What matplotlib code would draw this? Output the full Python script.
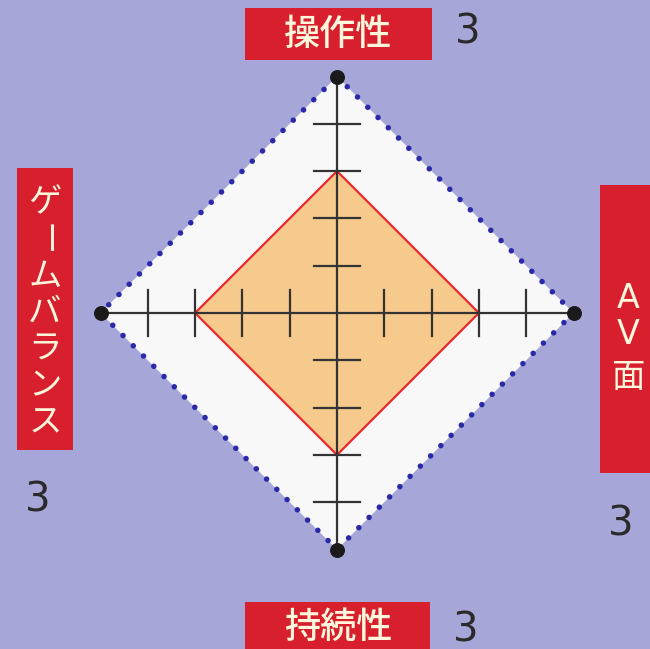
import matplotlib
matplotlib.use("Agg")
import matplotlib.pyplot as plt
from matplotlib.patches import Rectangle, Polygon
import numpy as np

plt.rcParams['font.family'] = ['Noto Sans CJK JP', 'DejaVu Sans']

# Data
categories = ["操作性", "AV面", "持続性", "ゲームバランス"]
values = [3, 3, 3, 3]
max_value = 5
tick_values = [1, 2, 3, 4]
score_labels = ["3", "3", "3", "3"]

W, H = 650, 649
fig = plt.figure(figsize=(W / 100, H / 100), dpi=100)
bg = "#a6a7d8"
fig.patch.set_facecolor(bg)
ax = fig.add_axes([0, 0, 1, 1])
ax.set_facecolor(bg)

u = 47.3
cx, cy = 337, 313
ax.set_xlim(-cx / u, (W - cx) / u)
ax.set_ylim(-(H - cy) / u, cy / u)
ax.axis("off")


def px(x, y):
    return ((x - cx) / u, (cy - y) / u)


# directions: top, right, bottom, left
dirs = np.array([[0, 1], [1, 0], [0, -1], [-1, 0]], dtype=float)

# white diamond with dotted border
outer = dirs * max_value
ax.add_patch(Polygon(outer, closed=True, facecolor="#f8f8f8", edgecolor="none", zorder=1))
ox = list(outer[:, 0]) + [outer[0, 0]]
oy = list(outer[:, 1]) + [outer[0, 1]]
ax.plot(ox, oy, color="#2a2aa8", lw=4.0, linestyle=(0, (0.01, 2.6)),
        dash_capstyle="round", zorder=2)

# data polygon
pts = dirs * np.array(values)[:, None]
ax.add_patch(Polygon(pts, closed=True, facecolor="#f6ca8c", edgecolor="#e8282c",
                     lw=1.6, zorder=3))

# axes lines
ax.plot([-max_value, max_value], [0, 0], color="#333333", lw=1.6, zorder=4)
ax.plot([0, 0], [-max_value, max_value], color="#333333", lw=1.6, zorder=4)
tl = 0.48
for t in tick_values:
    for s in (1, -1):
        ax.plot([-tl, tl], [s * t, s * t], color="#333333", lw=1.6, zorder=4)
        ax.plot([s * t, s * t], [-tl, tl], color="#333333", lw=1.6, zorder=4)
ax.scatter(outer[:, 0], outer[:, 1], s=95, color="#1a1a1a", zorder=5)

red = "#d81f2d"
tc = "#fff6dc"


def box(x0, y0, x1, y1):
    a = px(x0, y1)
    b = px(x1, y0)
    ax.add_patch(Rectangle(a, b[0] - a[0], b[1] - a[1], facecolor=red,
                           edgecolor="none", zorder=6, clip_on=False))


# top label
box(245, 8, 432, 60)
ax.text(*px(338, 35), categories[0], color=tc, fontsize=26, ha="center",
        va="center", zorder=7, fontweight="medium")
# bottom label
box(245, 602, 430, 660)
ax.text(*px(338, 628), categories[2], color=tc, fontsize=26, ha="center",
        va="center", zorder=7, fontweight="medium")
# left label (vertical)
box(17, 168, 73, 450)
left_chars = list(categories[3])
for i, ch in enumerate(left_chars):
    yy = 203 + i * 36.5
    ax.text(*px(45, yy), ch, color=tc, fontsize=24, ha="center", va="center",
            rotation=(-90 if ch == "ー" else 0), zorder=7)
# right label (vertical)
box(600, 185, 660, 473)
right_chars = ["A", "V", "面"]
right_y = [298, 335, 377]
for ch, yy in zip(right_chars, right_y):
    ax.text(*px(628, yy), ch, color=tc, fontsize=24, ha="center", va="center",
            zorder=7, family=['DejaVu Sans'] if ch != "面" else ['Noto Sans CJK JP'])

# scores
score_pos = [(468, 33), (621, 525), (466, 630), (38, 500)]
for lab, (x, y) in zip(score_labels, score_pos):
    ax.text(*px(x, y), lab, color="#2a2a2a", fontsize=29, ha="center",
            va="center", fontweight="normal", family=['DejaVu Sans'], zorder=7)

fig.savefig("out.png", dpi=100, facecolor=bg)
